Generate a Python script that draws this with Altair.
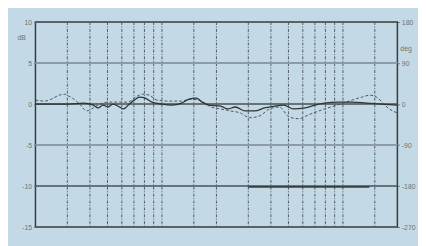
import altair as alt
import pandas as pd

# Curve A (solid) — frequency in Hz, level in dB
freq_a = [200, 238, 306, 368, 418, 444, 472, 503, 536, 570, 614, 652, 703, 752, 808, 881,
          1000, 1133, 1283, 1411, 1548, 1667, 1820, 2112, 2307, 2545, 2879, 3255, 3680, 4200,
          4713, 5328, 6180, 7000, 7916, 9302, 11217, 13526, 16309, 20000]
db_a = [0, 0, 0, 0.12, -0.12, -0.48, -0.12, -0.36, 0, -0.24, -0.6, -0.12, 0.48, 0.84, 0.72, 0.24,
        0, -0.12, 0.12, 0.6, 0.72, 0.24, -0.12, -0.24, -0.6, -0.36, -0.84, -0.84, -0.48, -0.24,
        -0.12, -0.6, -0.48, -0.12, 0.12, 0.24, 0.24, 0.12, 0, -0.12]

# Curve B (dashed)
freq_b = [200, 224, 245, 270, 291, 306, 326, 355, 383, 408, 444, 503, 570, 646, 713, 781, 851,
          939, 1063, 1283, 1451, 1645, 1868, 2112, 2391, 2707, 3064, 3469, 3927, 4446, 5033,
          5697, 6450, 7916, 9302, 11217, 12708, 14066, 15353, 16809, 18049, 20000]
db_b = [0.48, 0.36, 0.6, 1.08, 1.2, 0.96, 0.6, -0.12, -0.84, -0.6, -0.12, 0.24, 0.24, 0.24, 0.84,
        1.2, 1.08, 0.48, 0.36, 0.36, 0.6, 0.36, -0.36, -0.6, -0.84, -1.08, -1.67, -1.44, -0.6,
        -0.36, -1.56, -1.79, -1.32, -0.6, -0.12, 0.48, 0.84, 1.08, 0.84, 0, -0.6, -1.08]

# Short heavy segment on the -10 dB line
freq_c = [3000, 14000]
db_c = [-10.1, -10.1]

grid_freqs = [300, 400, 500, 600, 700, 800, 900, 1000, 1500, 2000, 3000, 4000, 5000,
              6000, 7000, 8000, 9000, 10000, 15000]
levels_major = [0, -10]
levels_minor = [5, -5]

x_tick_values = [200, 250, 500, 1000, 2000, 5000, 10000, 20000]
x_tick_labels = ["200", "250", "500", "1k", "2k", "5k", "10k", "20k"]
y_tick_values = [10, 5, 0, -5, -10, -15]
y_left_labels = ["10", "5", "0", "-5", "-10", "-15"]
y_right_labels = ["180", "90", "0", "-90", "-180", "-270"]


def label_expr(values, labels):
    expr = "''"
    for v, l in reversed(list(zip(values, labels))):
        expr = f"round(datum.value) == {v} ? '{l}' : ({expr})"
    return expr


FONT = "Liberation Sans"
LBL = "#6b7378"
xscale = alt.Scale(type="log", domain=[200, 20000], nice=False)
yscale = alt.Scale(domain=[-15, 10], nice=False, zero=False)

df_a = pd.DataFrame({"f": freq_a, "db": db_a})
df_b = pd.DataFrame({"f": freq_b, "db": db_b})
df_c = pd.DataFrame({"f": freq_c, "db": db_c})

vgrid = alt.Chart(pd.DataFrame({"f": grid_freqs})).mark_rule(
    color="#4f5a60", strokeWidth=1, strokeDash=[3, 1.5, 1, 1.5]
).encode(x=alt.X("f:Q", scale=xscale, axis=None))

hminor = alt.Chart(pd.DataFrame({"y": levels_minor})).mark_rule(
    color="#8d9ca6", strokeWidth=2
).encode(y=alt.Y("y:Q", scale=yscale, axis=None))

hmajor = alt.Chart(pd.DataFrame({"y": levels_major})).mark_rule(
    color="#4a5054", strokeWidth=1.5
).encode(y=alt.Y("y:Q", scale=yscale, axis=None))

line_b = alt.Chart(df_b).mark_line(
    color="#50565a", strokeWidth=1, strokeDash=[3, 2], interpolate="monotone"
).encode(
    x=alt.X("f:Q", scale=xscale, axis=None),
    y=alt.Y("db:Q", scale=yscale, axis=alt.Axis(
        orient="right", values=y_tick_values,
        labelExpr=label_expr(y_tick_values, y_right_labels),
        title=None, grid=False, domain=False, ticks=True, tickSize=2, tickColor=LBL,
        labelFontSize=7, labelColor=LBL, labelFont=FONT, labelPadding=2)),
)

line_c = alt.Chart(df_c).mark_line(color="#3a3f42", strokeWidth=2).encode(
    x=alt.X("f:Q", scale=xscale, axis=None),
    y=alt.Y("db:Q", scale=yscale, axis=None),
)

line_a = alt.Chart(df_a).mark_line(
    color="#2f3436", strokeWidth=1.3, interpolate="monotone"
).encode(
    x=alt.X("f:Q", scale=xscale, axis=alt.Axis(
        values=x_tick_values, labelExpr=label_expr(x_tick_values, x_tick_labels),
        title=None, grid=False, domain=False, ticks=False,
        labelFontSize=7, labelColor=LBL, labelFont=FONT, labelPadding=3,
        labelFlush=False)),
    y=alt.Y("db:Q", scale=yscale, axis=alt.Axis(
        orient="left", values=y_tick_values,
        labelExpr=label_expr(y_tick_values, y_left_labels),
        title=None, grid=False, domain=False, ticks=True, tickSize=2, tickColor=LBL,
        labelFontSize=7, labelColor=LBL, labelFont=FONT, labelPadding=2)),
)

unit_left = alt.Chart(pd.DataFrame({"t": ["dB"]})).mark_text(
    fontSize=7, color=LBL, font=FONT, align="center"
).encode(x=alt.value(-14), y=alt.value(16), text="t:N")

unit_right = alt.Chart(pd.DataFrame({"t": ["deg"]})).mark_text(
    fontSize=7, color=LBL, font=FONT, align="left"
).encode(x=alt.value(372), y=alt.value(28), text="t:N")

chart = alt.layer(
    vgrid, hminor, hmajor, line_c, line_b, line_a, unit_left, unit_right
).resolve_axis(y="independent").resolve_scale(y="shared", x="shared").properties(
    width=369, height=209,
    padding={"left": 28, "top": 12, "right": 21, "bottom": 17},
    autosize=alt.AutoSizeParams(type="none"),
    background="#C3DAE6",
).configure_view(stroke="#3a3a3a", strokeWidth=1.5)

chart.save("out.html", embed_options={"renderer": "svg", "actions": False})
